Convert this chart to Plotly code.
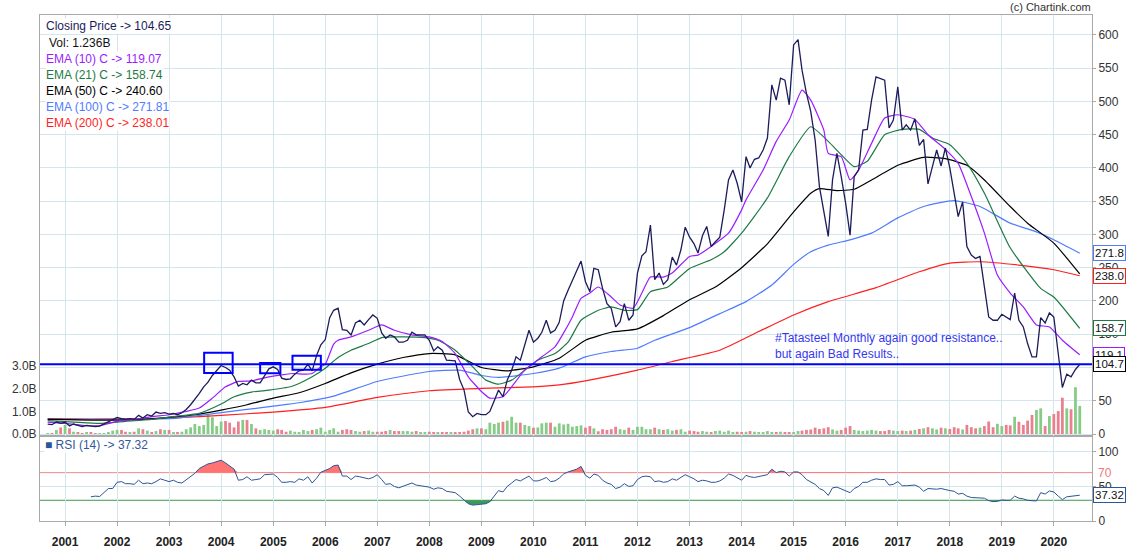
import plotly.graph_objects as go
import pandas as pd
import numpy as np

# ---------------- data (monthly, Sep 2000 .. Jul 2020) ----------------
months = pd.date_range("2000-09-01", periods=239, freq="MS")

close = [
    15, 14, 18, 16, 18, 12, 15, 13, 11, 13,
    12, 11, 12, 15, 18, 21, 25, 23, 22, 23,
    22, 28, 24, 29, 27, 33, 31, 32, 30, 31,
    29, 32, 37, 44, 52, 61, 71, 78, 88, 96,
    103, 100, 96, 86, 72, 76, 74, 81, 77, 77,
    87, 98, 101, 97, 84, 82, 83, 90, 95, 96,
    105, 95, 118, 134, 142, 175, 186, 189, 157, 156,
    149, 167, 171, 164, 172, 179, 174, 152, 144, 149,
    146, 138, 138, 141, 153, 149, 149, 149, 141, 125,
    131, 126, 111, 111, 110, 82, 66, 33, 26, 31,
    29, 29, 34, 50, 66, 56, 81, 96, 116, 111,
    134, 156, 138, 144, 153, 171, 152, 156, 168, 200,
    216, 230, 244, 260, 229, 214, 249, 247, 219, 196,
    189, 161, 169, 196, 171, 179, 242, 268, 274, 314,
    232, 242, 225, 232, 266, 254, 277, 311, 296, 286,
    272, 298, 312, 282, 289, 296, 337, 382, 397, 377,
    349, 417, 400, 413, 415, 427, 445, 525, 502, 535,
    532, 495, 585, 593, 547, 512, 485, 442, 372, 337,
    297, 382, 422, 387, 347, 299, 387, 397, 457, 458,
    502, 537, 535, 532, 460, 472, 522, 457, 465, 457,
    474, 434, 443, 376, 402, 427, 403, 430, 400, 364,
    327, 349, 282, 269, 264, 267, 222, 176, 171, 171,
    180, 176, 172, 212, 171, 161, 136, 116, 116, 175,
    167, 182, 176, 121, 70, 90, 86, 97, 104.65,
]

volume_bn = [
    0.03, 0.03, 0.18, 0.29, 0.40, 0.25, 0.10, 0.07, 0.03, 0.06,
    0.06, 0.03, 0.03, 0.04, 0.07, 0.15, 0.18, 0.18, 0.10, 0.07,
    0.10, 0.25, 0.21, 0.15, 0.07, 0.13, 0.21, 0.18, 0.18, 0.07,
    0.06, 0.10, 0.21, 0.29, 0.44, 0.35, 0.40, 0.84, 0.74, 0.35,
    0.55, 0.57, 0.50, 0.29, 0.55, 0.62, 0.62, 0.44, 0.25, 0.18,
    0.21, 0.18, 0.15, 0.21, 0.18, 0.10, 0.15, 0.10, 0.06, 0.18,
    0.13, 0.18, 0.21, 0.28, 0.10, 0.18, 0.25, 0.10, 0.18, 0.21,
    0.18, 0.13, 0.10, 0.13, 0.15, 0.10, 0.10, 0.10, 0.13, 0.18,
    0.13, 0.13, 0.13, 0.13, 0.10, 0.13, 0.06, 0.07, 0.10, 0.06,
    0.07, 0.06, 0.06, 0.06, 0.06, 0.07, 0.10, 0.15, 0.21, 0.25,
    0.25, 0.21, 0.50, 0.44, 0.50, 0.54, 0.59, 0.76, 0.50, 0.50,
    0.40, 0.35, 0.28, 0.29, 0.47, 0.50, 0.50, 0.32, 0.47, 0.42,
    0.45, 0.32, 0.35, 0.38, 0.28, 0.35, 0.25, 0.12, 0.21, 0.18,
    0.21, 0.32, 0.21, 0.18, 0.28, 0.18, 0.32, 0.32, 0.21, 0.21,
    0.28, 0.21, 0.18, 0.21, 0.15, 0.18, 0.21, 0.10, 0.15, 0.13,
    0.10, 0.13, 0.10, 0.06, 0.13, 0.15, 0.10, 0.15, 0.07, 0.10,
    0.06, 0.10, 0.13, 0.10, 0.07, 0.06, 0.13, 0.06, 0.06, 0.10,
    0.07, 0.06, 0.06, 0.13, 0.15, 0.18, 0.20, 0.28, 0.22, 0.25,
    0.30, 0.20, 0.15, 0.18, 0.28, 0.35, 0.18, 0.15, 0.13, 0.15,
    0.18, 0.15, 0.13, 0.13, 0.18, 0.15, 0.13, 0.15, 0.13, 0.15,
    0.18, 0.22, 0.25, 0.30, 0.25, 0.20, 0.28, 0.25, 0.22, 0.30,
    0.25, 0.20, 0.40, 0.30, 0.25, 0.28, 0.35, 0.55, 0.30, 0.45,
    0.35, 0.40, 0.38, 0.76, 0.54, 0.40, 0.59, 0.84, 1.06, 1.13,
    0.35, 0.79, 0.88, 1.01, 1.60, 1.13, 1.09, 2.06, 1.236,
]

rsi_first = 10  # RSI(14) starts at this month index
rsi14 = [
    35, 36, 35.5, 41, 47, 47, 56, 57, 54, 54,
    53, 59, 54, 55, 54, 57, 61, 59, 57, 59,
    56, 55, 60, 65, 69, 76, 79, 82.6, 84, 86,
    88, 84, 80, 75, 59, 60, 64, 59, 60, 61,
    67, 68, 68, 63, 56, 56, 57, 56, 61, 59,
    64, 55, 62, 70.5, 73, 76, 80, 81, 65, 65,
    60, 65, 64, 62, 61, 63, 67, 60, 53, 54,
    50, 48, 50, 52, 55, 52, 51, 50, 49, 46,
    48, 47, 43, 42, 41, 36, 31, 25, 23, 24,
    24, 25, 28, 37, 44, 42, 50, 55, 60, 58,
    62, 65, 58, 58, 60, 63, 57, 58, 62, 68,
    71, 73, 75, 79, 66, 62, 68, 66, 59, 55,
    53, 47, 49, 54, 50, 51, 60, 64, 65, 64,
    57, 58, 56, 57, 61, 59, 63, 67, 64, 61,
    57, 59, 58, 56, 56, 58, 62, 68, 66, 62,
    59, 66, 64, 63, 64, 65, 67, 75, 70, 72,
    71, 65, 71, 71, 67, 60, 56, 53, 47, 44,
    37, 48, 49, 46, 44, 41, 47, 50, 56, 56,
    59, 61, 60, 60, 52, 53, 57, 51, 51, 51,
    52, 49, 43, 47, 46, 46, 47, 45, 44, 43,
    39, 40, 36, 34, 34, 34, 33, 29.5, 28, 28.5,
    30.5, 30, 30, 36, 33, 32, 30, 29.4, 29, 41,
    39, 43.5, 42, 36, 31, 35, 35.5, 36, 37.32,
]

# EMA readings (month index -> value)
ema10_at = [0, 4, 8, 12, 16, 20, 24, 28, 32, 35, 38, 41, 44, 47, 51, 54, 57, 59, 61, 63,
            64, 66, 67, 70, 74, 77, 80, 84, 88, 91, 94, 97, 100, 102, 105, 107, 110, 114, 117, 119,
            121, 123, 125, 127, 130, 132, 135, 137, 139, 142, 144, 148, 150, 153, 157, 160, 161, 165, 168, 171,
            174, 176, 179, 180, 183, 185, 187, 190, 193, 196, 200, 203, 207, 210, 213, 216, 219, 222, 225, 228,
            231, 234, 238]
ema10 = [18, 16, 13, 12.5, 19, 22, 26, 29, 34, 39, 54, 71, 79, 80, 86, 89, 91, 90, 91, 101,
         105, 135, 141, 146, 156, 164, 156, 149, 146, 139, 121, 86, 64, 54, 56, 71, 96, 116, 131, 152,
         176, 204, 212, 221, 206, 194, 189, 212, 236, 236, 242, 267, 269, 282, 302, 337, 352, 397, 440, 472,
         517, 502, 457, 422, 417, 382, 397, 437, 475, 480, 473, 450, 428, 407, 357, 302, 239, 212, 191, 164,
         161, 141, 119.07]

ema21_at = [0, 6, 12, 18, 24, 30, 35, 40, 43, 47, 51, 56, 58, 61, 64, 67, 70, 74, 77, 81,
            87, 90, 94, 98, 101, 104, 107, 110, 113, 117, 120, 123, 127, 130, 133, 136, 139, 143, 148, 153,
            156, 160, 166, 171, 176, 180, 183, 186, 189, 193, 197, 201, 204, 208, 212, 216, 222, 229, 232, 238]
ema21 = [20, 18, 16, 19, 22, 27, 31, 45, 56, 63, 66, 71, 76, 86, 99, 115, 126, 136, 145, 146,
         145, 141, 126, 101, 81, 75, 81, 96, 111, 121, 138, 171, 186, 191, 186, 187, 214, 221, 249, 262,
         274, 302, 355, 417, 462, 440, 420, 402, 410, 450, 458, 458, 445, 435, 407, 362, 280, 219, 206, 158.74]

ema50_at = [0, 4, 10, 16, 22, 28, 34, 40, 46, 52, 58, 64, 70, 76, 82, 88, 94, 100, 106, 112,
            118, 124, 130, 136, 142, 148, 154, 160, 166, 172, 176, 178, 182, 186, 190, 196, 202, 207, 212, 216,
            222, 226, 232, 238]
ema50 = [22, 21.5, 21, 21, 22, 25, 29, 36, 44, 54, 62, 76, 92, 105, 115, 121, 119, 100, 95, 101,
         114, 141, 153, 158, 178, 202, 221, 250, 286, 334, 362, 369, 366, 368, 382, 404, 416, 414, 404, 382,
         342, 317, 287, 240.60]

ema100_at = [0, 10, 22, 30, 40, 52, 58, 66, 76, 88, 95, 100, 104, 112, 118, 124, 130, 136, 140, 148,
             155, 161, 167, 172, 176, 180, 185, 190, 196, 202, 209, 215, 222, 228, 232, 238]
ema100 = [22.5, 22, 22.5, 24, 32, 42, 47, 57, 79, 94, 96, 88, 85, 91, 99, 116, 124, 129, 141, 160,
          181, 199, 224, 255, 274, 284, 292, 302, 325, 342, 351, 342, 317, 304, 292, 271.81]

ema200_at = [0, 10, 22, 30, 40, 52, 64, 76, 88, 100, 112, 118, 124, 136, 144, 155, 164, 172, 180, 191,
             201, 208, 215, 224, 232, 238]
ema200 = [23, 22.5, 23, 24.5, 28, 33, 40, 55, 65, 68.5, 71, 74, 80, 96, 109, 126, 154, 179, 199, 220,
          244, 257, 259, 254, 247, 238.01]

resistance_level = 105
# marked zones: (start, end, low, high)
zones = [("2003-09-04", "2004-03-22", 91.7, 122.3),
         ("2004-10-01", "2005-02-20", 91.3, 106.8),
         ("2005-05-16", "2005-12-01", 96.7, 117.7)]

years = list(range(2001, 2021))

# ---------------- layout helpers ----------------
W, H = 1127, 551
ML, MR, MT, MB = 40, 35, 15, 30
PW = W - ML - MR
PH = H - MT - MB


def px(x):
    return (x - ML) / PW


def py(y):
    return (H - MB - y) / PH


FONT = "Liberation Sans, Arial, Helvetica, sans-serif"
GRID = "#d4e5ee"
AXIS = "#a9a9a9"
C_CLOSE = "#1c1c5a"
C_E10 = "#9b1cff"
C_E21 = "#1e7a44"
C_E50 = "#000000"
C_E100 = "#4f7cff"
C_E200 = "#ff1f1f"
C_RSI = "#2c5596"

x_range = ["2000-07-09", "2020-09-25"]

fig = go.Figure()

vol_colors = ["#86cc86" if (i == 0 or close[i] >= close[i - 1]) else "#e8808f" for i in range(len(close))]
fig.add_trace(go.Bar(x=months, y=volume_bn, marker=dict(color=vol_colors, line=dict(width=0)),
                     xaxis="x2", yaxis="y", hoverinfo="skip"))

for at, vals, col in [(ema200_at, ema200, C_E200), (ema100_at, ema100, C_E100), (ema50_at, ema50, C_E50),
                      (ema21_at, ema21, C_E21), (ema10_at, ema10, C_E10)]:
    fig.add_trace(go.Scatter(x=months[at], y=vals, mode="lines",
                             line=dict(color=col, width=1.2, shape="spline", smoothing=0.5),
                             xaxis="x2", yaxis="y2", hoverinfo="skip"))

fig.add_trace(go.Scatter(x=months, y=close, mode="lines", line=dict(color=C_CLOSE, width=1.3),
                         xaxis="x2", yaxis="y2"))

rsi_months = months[rsi_first:]
rsi_arr = np.array(rsi14, dtype=float)
n = len(rsi14)
fig.add_trace(go.Scatter(x=rsi_months, y=[70] * n, mode="lines", line=dict(width=0, color="rgba(0,0,0,0)"),
                         xaxis="x", yaxis="y3", hoverinfo="skip"))
fig.add_trace(go.Scatter(x=rsi_months, y=np.maximum(rsi_arr, 70), mode="lines",
                         line=dict(width=0, color="rgba(0,0,0,0)"), fill="tonexty", fillcolor="#ff7373",
                         xaxis="x", yaxis="y3", hoverinfo="skip"))
fig.add_trace(go.Scatter(x=rsi_months, y=[30] * n, mode="lines", line=dict(width=0, color="rgba(0,0,0,0)"),
                         xaxis="x", yaxis="y3", hoverinfo="skip"))
fig.add_trace(go.Scatter(x=rsi_months, y=np.minimum(rsi_arr, 30), mode="lines",
                         line=dict(width=0, color="rgba(0,0,0,0)"), fill="tonexty", fillcolor="#3b9a5a",
                         xaxis="x", yaxis="y3", hoverinfo="skip"))
fig.add_trace(go.Scatter(x=rsi_months, y=rsi14, mode="lines", line=dict(color=C_RSI, width=1),
                         xaxis="x", yaxis="y3"))

shapes = [
    dict(type="line", xref="paper", x0=0, x1=1, yref="y2", y0=resistance_level, y1=resistance_level,
         line=dict(color="#0000ff", width=2), layer="above"),
    dict(type="line", xref="paper", x0=0, x1=1, yref="y3", y0=70, y1=70,
         line=dict(color="#f08a8a", width=1), layer="between"),
    dict(type="line", xref="paper", x0=0, x1=1, yref="y3", y0=30, y1=30,
         line=dict(color="#3d9a4a", width=1), layer="between"),
]
for x0, x1, lo, hi in zones:
    shapes.append(dict(type="rect", xref="x2", yref="y2", x0=x0, x1=x1, y0=lo, y1=hi,
                       line=dict(color="#0000ff", width=2), fillcolor="rgba(0,0,0,0)", layer="above"))

annotations = []
legend_rows = [
    ("Closing Price -> 104.65", C_CLOSE, 45, 26),
    ("Vol: 1.236B", "#111111", 48, 42.7),
    ("EMA (10) C -> 119.07", C_E10, 45, 58.7),
    ("EMA (21) C -> 158.74", C_E21, 45, 74.7),
    ("EMA (50) C -> 240.60", C_E50, 45, 90.7),
    ("EMA (100) C -> 271.81", C_E100, 45, 106.7),
    ("EMA (200) C -> 238.01", C_E200, 45, 122.7),
]
for txt, col, xx, yy in legend_rows:
    annotations.append(dict(text=txt, xref="paper", yref="paper", x=px(xx), y=py(yy), xanchor="left",
                            yanchor="middle", showarrow=False, font=dict(size=12, color=col, family=FONT),
                            bgcolor="white", borderpad=0))

annotations.append(dict(text="<span style='color:%s'>■</span> RSI (14) -> 37.32" % C_RSI, xref="paper",
                        yref="paper", x=px(44), y=py(445), xanchor="left", yanchor="middle", showarrow=False,
                        font=dict(size=12, color="#34589a", family=FONT), bgcolor="white", borderpad=0))

annotations.append(dict(text="(c) Chartink.com", xref="paper", yref="paper", x=px(1093), y=py(7),
                        xanchor="right", yanchor="middle", showarrow=False,
                        font=dict(size=11, color="#333", family=FONT)))

annotations.append(dict(text="#Tatasteel Monthly again good resistance..<br>but again Bad Results..",
                        xref="paper", yref="paper", x=px(773), y=py(345.5), xanchor="left", yanchor="middle",
                        align="left", showarrow=False, font=dict(size=12, color="#3636f0", family=FONT)))

value_boxes = [
    ("271.8", 271.81, "y2", C_E100),
    ("238.0", 238.01, "y2", C_E200),
    ("158.7", 158.74, "y2", C_E21),
    ("119.1", 119.07, "y2", C_E10),
    ("104.7", 104.65, "y2", "#000000"),
    ("37.32", 37.32, "y3", C_RSI),
]
for txt, val, yr, col in value_boxes:
    annotations.append(dict(text=txt, xref="paper", x=1, xshift=1, xanchor="left", yref=yr, y=val,
                            yanchor="middle", showarrow=False, bgcolor="white", bordercolor=col,
                            borderwidth=1, borderpad=1, font=dict(size=11.5, color="#111", family=FONT)))

annotations.append(dict(text="70", xref="paper", x=1, xshift=4, xanchor="left", yref="y3", y=70,
                        yanchor="middle", showarrow=False, font=dict(size=12, color="#f07a7a", family=FONT)))

tick_dates = ["%d-01-01" % y for y in years]

fig.update_layout(
    width=W, height=H, margin=dict(l=ML, r=MR, t=MT, b=MB, pad=0, autoexpand=False),
    paper_bgcolor="white", plot_bgcolor="white", showlegend=False, bargap=0.3,
    font=dict(family=FONT, size=12, color="#333"),
    xaxis=dict(domain=[0, 1], anchor="y3", type="date", range=x_range, tickmode="array", automargin=False,
               tickvals=tick_dates, ticktext=["<b>%d</b>" % y for y in years],
               showgrid=True, gridcolor=GRID, gridwidth=1, showline=True, linecolor=AXIS, mirror=True,
               ticks="outside", ticklen=4, tickcolor=AXIS, ticklabelstandoff=6,
               tickfont=dict(size=12, color="#222", family=FONT), zeroline=False),
    xaxis2=dict(domain=[0, 1], anchor="y", type="date", matches="x", range=x_range, tickmode="array",
                automargin=False,
                tickvals=tick_dates, showticklabels=False, showgrid=True, gridcolor=GRID, gridwidth=1,
                showline=True, linecolor=AXIS, mirror=True, ticks="", zeroline=False),
    yaxis=dict(domain=[py(436), 1], anchor="x2", side="left", range=[-0.088, 18.46], tickmode="array",
               automargin=False,
               tickvals=[0, 1, 2, 3], ticktext=["0.0B", "1.0B", "2.0B", "3.0B"], showgrid=False,
               zeroline=False, showline=True, linecolor=AXIS, ticks="",
               tickfont=dict(size=12, color="#333", family=FONT)),
    yaxis2=dict(overlaying="y", side="right", anchor="x2", range=[-3, 630], tickmode="array",
                automargin=False,
                tickvals=list(range(0, 601, 50)), showgrid=True, gridcolor=GRID, gridwidth=1,
                zeroline=False, showline=True, linecolor=AXIS, ticks="outside", ticklen=3, tickcolor=AXIS,
                tickfont=dict(size=12, color="#333", family=FONT)),
    yaxis3=dict(domain=[0, py(436)], anchor="x", side="right", range=[0, 123], tickmode="array",
                automargin=False,
                tickvals=[0, 50, 100], showgrid=True, gridcolor=GRID, gridwidth=1, zeroline=False,
                showline=True, linecolor=AXIS, mirror=True, ticks="outside", ticklen=3, tickcolor=AXIS,
                tickfont=dict(size=12, color="#333", family=FONT)),
    shapes=shapes, annotations=annotations,
)

fig.write_html("out.html", config={"displayModeBar": False},
               post_script="document.body.style.margin='0px';document.body.style.padding='0px';")
